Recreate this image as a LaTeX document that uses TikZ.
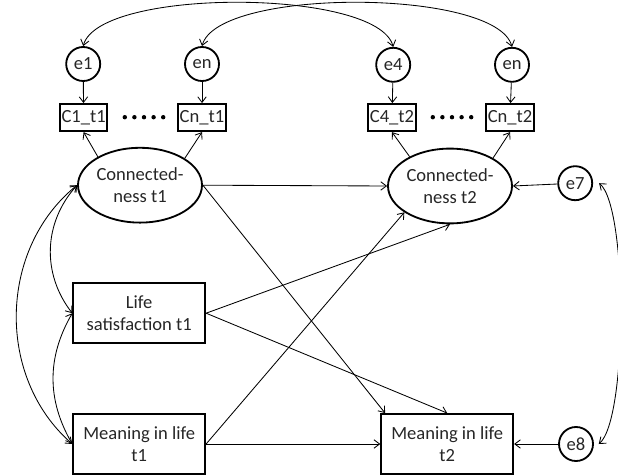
\documentclass[tikz,border=0pt]{standalone}
\usepackage{fontspec}
\setmainfont{Carlito}
\usetikzlibrary{shapes.geometric,arrows.meta}

\tikzset{
  err/.style={draw, circle, line width=1.3pt, minimum size=0.85cm, inner sep=0pt},
  ind/.style={draw, rectangle, line width=1.3pt, minimum width=1.18cm, minimum height=0.68cm, inner sep=1pt},
  lat/.style={draw, ellipse, line width=1.3pt, minimum width=3.1cm, minimum height=1.87cm, inner sep=0pt, align=center},
  obs/.style={draw, rectangle, line width=1.3pt, minimum width=3.3cm, minimum height=1.5cm, inner sep=0pt, align=center},
  reg/.style={-{Straight Barb[length=4pt,width=6pt]}, line width=0.6pt},
  cov/.style={{Straight Barb[length=4pt,width=6pt]}-{Straight Barb[length=4pt,width=6pt]}, line width=0.6pt}
}

\begin{document}
\begin{tikzpicture}[font=\fontsize{13.2}{15.8}\selectfont, text=black!85]
	\useasboundingbox (0,0) rectangle (15.45,-11.9);
	% error terms
	\node[err] (e1)at(2.08, -1.6) {e1};
	\node[err] (en1)at(5.05, -1.6) {en};
	\node[err] (e4)at(9.83, -1.62) {e4};
	\node[err] (en2)at(12.8, -1.62) {en};
	% indicators
	\node[ind] (C1t1)at(2.09, -2.94) {C1\_t1};
	\node[ind] (Cnt1)at(5.05, -2.94) {Cn\_t1};
	\node[ind] (C4t2)at(9.8, -2.94) {C4\_t2};
	\node[ind] (Cnt2)at(12.75, -2.94) {Cn\_t2};
	\foreach \i in {0,...,4} {
		\fill (3.12+\i*0.24, -2.93) circle (0.055);
		\fill (10.82+\i*0.24, -2.93) circle (0.055);
	}
	% latent and observed
	\node[lat] (conn1)at(3.5, -4.63) {Connected-\\ness t1};
	\node[lat] (conn2)at(11.25, -4.65) {Connected-\\ness t2};
	\node[obs] (life1)at(3.48, -7.83) {Life\\satisfaction t1};
	\node[obs] (mean1)at(3.48, -11.1) {Meaning in life\\t1};
	\node[obs] (mean2)at(11.18, -11.1) {Meaning in life\\t2};
	\node[err] (e7)at(14.38, -4.58) {e7};
	\node[err] (e8)at(14.4, -11.1) {e8};

	\draw[reg] (e1) -- (C1t1);
	\draw[reg] (en1) -- (Cnt1);
	\draw[reg] (e4) -- (C4t2);
	\draw[reg] (en2) -- (Cnt2);
	\draw[reg] (conn1.146) -- (C1t1.south);
	\draw[reg] (conn1.31) -- (Cnt1.south);
	\draw[reg] (conn2.144) -- (C4t2.south);
	\draw[reg] (conn2.33) -- (Cnt2.south);

	\draw[reg] (conn1.east) -- (conn2.west);
	\draw[reg] (conn1.east) -- ([xshift=0.12cm]mean2.north west);
	\draw[reg] (life1.east) -- (conn2.south);
	\draw[reg] (life1.east) -- (mean2.north);
	\draw[reg] (mean1.east) -- (conn2.210);
	\draw[reg] (mean1.east) -- (mean2.west);
	\draw[reg] (e7) -- (conn2.east);
	\draw[reg] (e8) -- (mean2.east);

	\draw[cov] (e1.north) to[out=75, in=105, looseness=0.5] (e4.north);
	\draw[cov] (en1.north) to[out=75, in=105, looseness=0.5] (en2.north);
	\draw[cov] (conn1.west) to[bend right=40] (life1.west);
	\draw[cov] (life1.west) to[bend right=30] (mean1.west);
	\draw[cov] (conn1.west) to[bend right=50] (mean1.west);
	\draw[cov] ([xshift=0.15cm]e7.east) to[out=-40, in=40, looseness=0.37] ([xshift=0.12cm]e8.east);
\end{tikzpicture}
\end{document}
